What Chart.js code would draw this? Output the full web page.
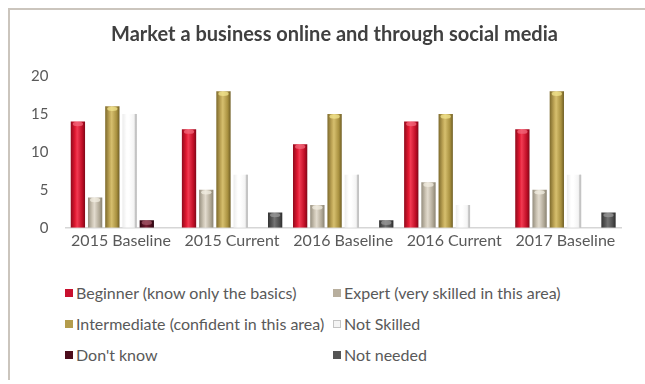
<!DOCTYPE html>
<html>
<head>
<meta charset="utf-8">
<script src="https://cdn.jsdelivr.net/npm/chart.js@4/dist/chart.umd.min.js"></script>
<style>
  html, body { margin: 0; padding: 0; background: #fff; }
  #frame { position: relative; width: 645px; height: 384px; overflow: hidden; background: #fff; }
  #edge { position: absolute; left: 8px; top: 8px; width: 700px; height: 372px;
          border-left: 2px solid #cbc5bd; border-top: 2px solid #cbc5bd; box-sizing: border-box; }
  #plot { position: absolute; left: 0; top: 0; width: 645px; height: 257px; }
  #legend { position: absolute; left: 65px; top: 283px; width: 570px;
            display: grid; grid-template-columns: 268px 290px; row-gap: 12px;
            font-family: Lato, "Open Sans", sans-serif; font-size: 16px; color: #595959; }
  .item { display: flex; align-items: center; height: 19px; white-space: nowrap; }
  .sw { width: 8px; height: 8px; margin-right: 3px; box-sizing: border-box; flex: none; }
</style>
</head>
<body>
<div id="frame">
  <div id="edge"></div>
  <div id="plot"><canvas id="c" width="645" height="257"></canvas></div>
  <div id="legend"></div>
</div>
<script>
const title = "Market a business online and through social media";
const categories = ["2015 Baseline", "2015 Current", "2016 Baseline", "2016 Current", "2017 Baseline"];
const yTicks = [0, 5, 10, 15, 20];

const beginner     = [14, 13, 11, 14, 13];
const expert       = [4, 5, 3, 6, 5];
const intermediate = [16, 18, 15, 15, 18];
const notSkilled   = [15, 7, 7, 3, 7];
const dontKnow     = [1, 0, 0, 0, 0];
const notNeeded    = [0, 2, 1, 0, 2];

const seriesNames = [
  "Beginner (know only the basics)",
  "Expert (very skilled in this area)",
  "Intermediate (confident in this area)",
  "Not Skilled",
  "Don't know",
  "Not needed"
];

// flat colour + cylinder shading stops (edge, highlight, edge) per series
const palette = [
  { flat: "#c8102e", stops: ["#900a1c", "#e01830", "#f23a52", "#c00e26", "#800818"], cap: "#f26a7c", line: null },
  { flat: "#b8af9e", stops: ["#958e7e", "#cec6b6", "#e2dbce", "#b0a896", "#8a8372"], cap: "#f2ede2", line: null },
  { flat: "#b49c4c", stops: ["#7d6a2c", "#bea556", "#d6bf6e", "#a8903f", "#6e5d24"], cap: "#f2e48e", line: null },
  { flat: "#f4f4f4", stops: ["#ececec", "#ffffff", "#ffffff", "#f4f4f4", "#b4b4b4"], cap: null, line: "#c4c4c4" },
  { flat: "#4c0d1c", stops: ["#2e0510", "#5e1426", "#7a2034", "#4a0c1a", "#280410"], cap: "#a45a6a", line: null },
  { flat: "#555555", stops: ["#333333", "#5c5c5c", "#747474", "#4c4c4c", "#2c2c2c"], cap: "#9a9a9a", line: null }
];

const values = [beginner, expert, intermediate, notSkilled, dontKnow, notNeeded];

const datasets = values.map((v, i) => ({
  label: seriesNames[i],
  data: v,
  backgroundColor: palette[i].flat,
  borderWidth: 0,
  categoryPercentage: 0.93,
  barPercentage: 0.83
}));

// shade each bar horizontally like a cylinder, using the bar's own position
const cylinderShade = {
  id: "cylinderShade",
  beforeDatasetDraw(chart, args) {
    const ctx = chart.ctx;
    const p = palette[args.index];
    args.meta.data.forEach(el => {
      const w = el.width;
      const x0 = el.x - w / 2;
      const g = ctx.createLinearGradient(x0, 0, x0 + w, 0);
      g.addColorStop(0, p.stops[0]);
      g.addColorStop(0.3, p.stops[1]);
      g.addColorStop(0.45, p.stops[2]);
      g.addColorStop(0.8, p.stops[3]);
      g.addColorStop(1, p.stops[4]);
      el.options = Object.assign({}, el.options, { backgroundColor: g });
    });
  },
  afterDatasetDraw(chart, args) {
    const ctx = chart.ctx;
    const p = palette[args.index];
    const ds = chart.data.datasets[args.index];
    args.meta.data.forEach((el, j) => {
      if (!ds.data[j]) return;
      const w = el.width;
      const top = Math.min(el.y, el.base);
      const bottom = Math.max(el.y, el.base);
      ctx.save();
      if (p.line) {
        ctx.strokeStyle = p.line;
        ctx.lineWidth = 1.5;
        ctx.beginPath();
        ctx.moveTo(el.x + w / 2 - 1, top);
        ctx.lineTo(el.x + w / 2 - 1, bottom);
        ctx.stroke();
      }
      if (p.cap) {
        ctx.fillStyle = p.cap;
        ctx.globalAlpha = 0.75;
        ctx.beginPath();
        ctx.ellipse(el.x, top + 2.5, w / 2 - 2, 2.2, 0, 0, Math.PI * 2);
        ctx.fill();
      }
      ctx.restore();
    });
  }
};

// chart heading, set slightly right of the canvas centre
const heading = {
  id: "heading",
  afterDraw(chart) {
    const ctx = chart.ctx;
    ctx.save();
    ctx.font = "bold 20px Lato, 'Open Sans', sans-serif";
    ctx.fillStyle = "#404040";
    ctx.textAlign = "center";
    ctx.textBaseline = "middle";
    ctx.fillText(title, chart.width / 2 + 12, 35);
    ctx.restore();
  }
};

Chart.defaults.font.family = "Lato, 'Open Sans', sans-serif";
Chart.defaults.color = "#595959";

const chart = new Chart(document.getElementById("c"), {
  type: "bar",
  data: { labels: categories, datasets },
  options: {
    responsive: false,
    animation: false,
    events: [],
    layout: { padding: { left: 14, right: 24, top: 76, bottom: 4 } },
    plugins: {
      legend: { display: false },
      tooltip: { enabled: false },
      title: { display: false }
    },
    scales: {
      x: {
        grid: { display: false, drawTicks: false },
        border: { display: true, color: "#d6d6d6", width: 1.5 },
        ticks: { font: { size: 16 }, color: "#595959", padding: 3 },
        afterFit(scale) { scale.paddingLeft = 0; scale.paddingRight = 0; }
      },
      y: {
        min: 0, max: 20,
        afterBuildTicks(scale) { scale.ticks = yTicks.map(v => ({ value: v })); },
        grid: { display: false, drawTicks: false },
        border: { display: false },
        ticks: { font: { size: 15 }, color: "#595959", padding: 17 },
        afterFit(scale) { scale.paddingTop = 0; scale.paddingBottom = 0; }
      }
    }
  },
  plugins: [cylinderShade, heading]
});

// two-column legend built from the chart's datasets
const legendEl = document.getElementById("legend");
chart.data.datasets.forEach((ds, i) => {
  const item = document.createElement("div");
  item.className = "item";
  const sw = document.createElement("span");
  sw.className = "sw";
  sw.style.background = palette[i].flat;
  if (palette[i].line) sw.style.border = "1px solid #c4c4c4";
  const tx = document.createElement("span");
  tx.textContent = ds.label;
  item.appendChild(sw);
  item.appendChild(tx);
  legendEl.appendChild(item);
});
</script>
</body>
</html>
